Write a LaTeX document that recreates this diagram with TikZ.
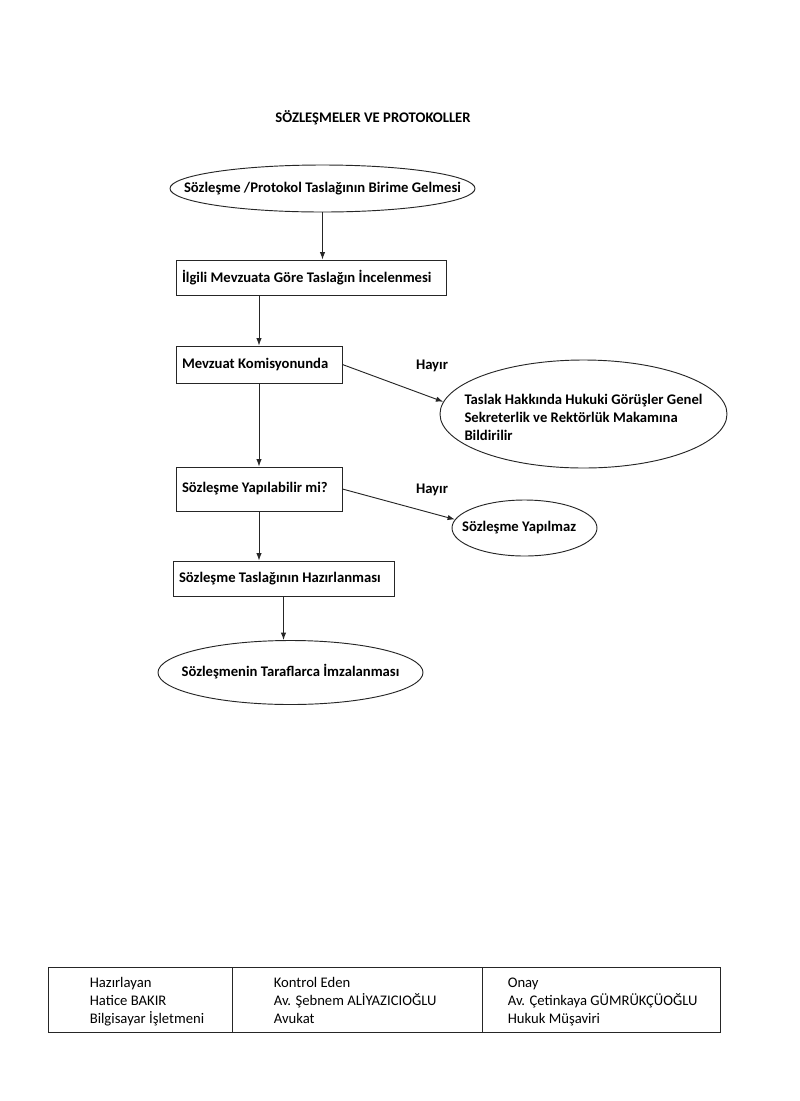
\documentclass[tikz,border=0pt]{standalone}
\usepackage{fontspec}
\setmainfont{Carlito}
\usetikzlibrary{positioning,arrows.meta,shapes.geometric,calc}

\newcommand{\ovaltext}[2][-2.75pt]{%
  \makebox[0pt]{\raisebox{#1}[0pt][0pt]{\begin{tabular}{@{}l@{}}#2\end{tabular}}}}

\begin{document}
\begin{tikzpicture}[
    x=0.75pt, y=-0.75pt, >={Latex[length=5.5pt,width=4pt]},
    font=\fontsize{11}{13.5}\selectfont\bfseries,
    oval/.style={draw=black!85, ellipse, inner sep=0pt, line width=0.7pt},
    box/.style={draw=black!85, rectangle, align=flush left, inner xsep=4.5pt,
      inner ysep=0pt, line width=0.7pt},
    cell/.style={draw=black!85, rectangle, inner sep=0pt,
      minimum height=48.75pt, line width=0.7pt},
    sign/.style={anchor=west, align=left, inner sep=0pt,
      font=\fontsize{11}{13.5}\selectfont\mdseries},
    arr/.style={->, line width=0.7pt, draw=black!85},
    nolbl/.style={inner sep=0pt}
]
\useasboundingbox (0,0) rectangle (800,1101);

\node[nolbl] (title) at (373,118) {SÖZLEŞMELER VE PROTOKOLLER};

% flowchart
\node[oval, minimum width=228.75pt, minimum height=35.25pt] (start) at (322.5,188.5)
  {\ovaltext{Sözleşme /Protokol Taslağının Birime Gelmesi}};
\node[box, text width=193.5pt, minimum height=26.25pt] (review) at (311,277.5)
  {İlgili Mevzuata Göre Taslağın İncelenmesi};
\node[box, text width=115.5pt, minimum height=27.75pt] (komisyon) at (259,364.5)
  {Mevzuat Komisyonunda};
\node[oval, minimum width=215.25pt, minimum height=81pt] (gorus) at (583.5,414)
  {\ovaltext[-6.5pt]{Taslak Hakkında Hukuki Görüşler Genel\\Sekreterlik ve Rektörlük Makamına\\Bildirilir}};
\node[box, text width=115.5pt, minimum height=33pt] (karar) at (259,489)
  {Sözleşme Yapılabilir mi?};
\node[oval, minimum width=108.75pt, minimum height=42pt] (red) at (524.5,528)
  {\ovaltext{\hspace*{-8pt}Sözleşme Yapılmaz}};
\node[box, text width=156.75pt, minimum height=26.25pt] (hazirla) at (283.5,578.5)
  {Sözleşme Taslağının Hazırlanması};
\node[oval, minimum width=198.75pt, minimum height=48pt] (imza) at (290.5,672.5)
  {\ovaltext{Sözleşmenin Taraflarca İmzalanması}};

\node[nolbl] (hayir1) at (432,366) {Hayır};
\node[nolbl] (hayir2) at (432,490) {Hayır};

\draw[arr] (start.south) -- (start.south |- review.north);
\draw[arr] (review.south -| komisyon.north) -- (komisyon.north);
\draw[arr] (komisyon.east) -- (gorus.175);
\draw[arr] (komisyon.south) -- (karar.north);
\draw[arr] (karar.east) -- (red.173);
\draw[arr] (karar.south) -- (karar.south |- hazirla.north);
\draw[arr] (hazirla.south) -- (hazirla.south |- imza.north);

% signature table
\node[cell, minimum width=138pt]   (prep)  at (140,999.5) {};
\node[cell, minimum width=187.5pt] (check) at (357,999.5) {};
\node[cell, minimum width=178.5pt] (onay)  at (601,999.5) {};
\node[sign] (prepT)  at ($(prep.west)+(42,2)$)
  {\strut Hazırlayan\\Hatice BAKIR\\Bilgisayar İşletmeni\strut};
\node[sign] (checkT) at ($(check.west)+(42,2)$)
  {\strut Kontrol Eden\\Av. Şebnem ALİYAZICIOĞLU\\Avukat\strut};
\node[sign] (onayT)  at ($(onay.west)+(26,2)$)
  {\strut Onay\\Av. Çetinkaya GÜMRÜKÇÜOĞLU\\Hukuk Müşaviri\strut};
\end{tikzpicture}
\end{document}
